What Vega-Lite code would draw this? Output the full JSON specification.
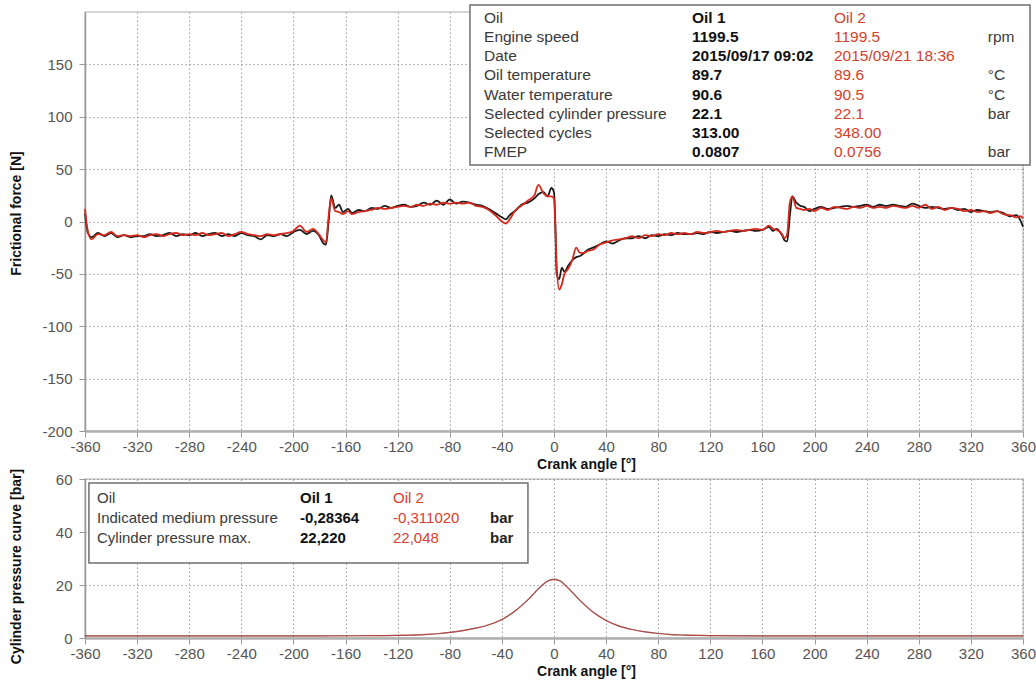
{
  "$schema": "https://vega.github.io/schema/vega-lite/v6.json",
  "padding": {"left": 8, "top": 3, "right": 0, "bottom": 2},
  "bounds": "flush",
  "spacing": 48,
  "config": {
    "locale": {"number": {"decimal": ".", "thousands": ",", "grouping": [3], "currency": ["", ""], "minus": "-"}},
    "font": "Liberation Sans",
    "view": {"stroke": "#c8c8c8", "strokeWidth": 1.5},
    "axis": {
      "labelFont": "Liberation Sans", "labelFontSize": 15, "labelColor": "#555555",
      "titleFont": "Liberation Sans", "titleFontSize": 14, "titleFontWeight": "bold", "titleColor": "#111111",
      "gridColor": "#8c8c8c", "gridDash": [1.5, 2.5], "gridWidth": 1, "gridOpacity": 0.8,
      "domainColor": "#999999", "domainWidth": 1.5, "tickColor": "#999999", "tickSize": 6, "labelPadding": 2,
      "labelFlush": false
    },
    "axisY": {"labelPadding": 7}
  },
  "datasets": {
    "friction": [
      {"a": -360, "o1": 8, "o2": 12}, {"a": -358, "o1": -10, "o2": -8}, {"a": -355, "o1": -15, "o2": -17},
      {"a": -350, "o1": -11, "o2": -12}, {"a": -345, "o1": -14, "o2": -13}, {"a": -340, "o1": -11, "o2": -10},
      {"a": -335, "o1": -15, "o2": -14}, {"a": -330, "o1": -13, "o2": -13}, {"a": -325, "o1": -15, "o2": -14},
      {"a": -320, "o1": -14, "o2": -13}, {"a": -315, "o1": -14, "o2": -15}, {"a": -310, "o1": -12, "o2": -13},
      {"a": -305, "o1": -14, "o2": -12}, {"a": -300, "o1": -13, "o2": -14}, {"a": -295, "o1": -11, "o2": -12},
      {"a": -290, "o1": -14, "o2": -11}, {"a": -285, "o1": -12, "o2": -13}, {"a": -280, "o1": -13, "o2": -12},
      {"a": -275, "o1": -11, "o2": -13}, {"a": -270, "o1": -14, "o2": -11}, {"a": -265, "o1": -12, "o2": -13},
      {"a": -260, "o1": -11, "o2": -12}, {"a": -255, "o1": -14, "o2": -11}, {"a": -250, "o1": -12, "o2": -14},
      {"a": -245, "o1": -14, "o2": -12}, {"a": -240, "o1": -11, "o2": -10}, {"a": -235, "o1": -13, "o2": -12},
      {"a": -230, "o1": -14, "o2": -13}, {"a": -225, "o1": -17, "o2": -14}, {"a": -220, "o1": -13, "o2": -12},
      {"a": -215, "o1": -14, "o2": -13}, {"a": -210, "o1": -12, "o2": -12}, {"a": -205, "o1": -14, "o2": -11},
      {"a": -200, "o1": -10, "o2": -9}, {"a": -195, "o1": -8, "o2": -4}, {"a": -190, "o1": -12, "o2": -10},
      {"a": -185, "o1": -9, "o2": -7}, {"a": -180, "o1": -14, "o2": -13}, {"a": -177, "o1": -21, "o2": -18},
      {"a": -175, "o1": -22, "o2": -20}, {"a": -173, "o1": 0, "o2": 5}, {"a": -171, "o1": 25, "o2": 22},
      {"a": -168, "o1": 13, "o2": 10}, {"a": -165, "o1": 16, "o2": 9}, {"a": -162, "o1": 9, "o2": 7},
      {"a": -158, "o1": 12, "o2": 10}, {"a": -155, "o1": 8, "o2": 7}, {"a": -150, "o1": 11, "o2": 9},
      {"a": -145, "o1": 10, "o2": 10}, {"a": -140, "o1": 13, "o2": 11}, {"a": -135, "o1": 12, "o2": 13},
      {"a": -130, "o1": 15, "o2": 12}, {"a": -125, "o1": 13, "o2": 13}, {"a": -120, "o1": 15, "o2": 14},
      {"a": -115, "o1": 16, "o2": 15}, {"a": -110, "o1": 14, "o2": 14}, {"a": -105, "o1": 15, "o2": 16},
      {"a": -100, "o1": 18, "o2": 15}, {"a": -95, "o1": 16, "o2": 17}, {"a": -90, "o1": 20, "o2": 16},
      {"a": -85, "o1": 16, "o2": 18}, {"a": -80, "o1": 21, "o2": 17}, {"a": -75, "o1": 17, "o2": 18},
      {"a": -70, "o1": 19, "o2": 17}, {"a": -65, "o1": 18, "o2": 18}, {"a": -60, "o1": 16, "o2": 15},
      {"a": -55, "o1": 15, "o2": 14}, {"a": -50, "o1": 12, "o2": 11}, {"a": -45, "o1": 8, "o2": 6},
      {"a": -40, "o1": 4, "o2": 0}, {"a": -37, "o1": 2, "o2": -2}, {"a": -34, "o1": 6, "o2": 2},
      {"a": -30, "o1": 10, "o2": 10}, {"a": -25, "o1": 16, "o2": 15}, {"a": -20, "o1": 18, "o2": 20},
      {"a": -15, "o1": 22, "o2": 25}, {"a": -12, "o1": 26, "o2": 35}, {"a": -8, "o1": 28, "o2": 27},
      {"a": -5, "o1": 24, "o2": 24}, {"a": -2, "o1": 32, "o2": 24}, {"a": 0, "o1": 28, "o2": 22},
      {"a": 1, "o1": 0, "o2": -5}, {"a": 2, "o1": -50, "o2": -40}, {"a": 4, "o1": -55, "o2": -65},
      {"a": 6, "o1": -44, "o2": -60}, {"a": 8, "o1": -48, "o2": -50}, {"a": 11, "o1": -42, "o2": -45},
      {"a": 14, "o1": -37, "o2": -37}, {"a": 17, "o1": -34, "o2": -25}, {"a": 20, "o1": -33, "o2": -30},
      {"a": 23, "o1": -30, "o2": -30}, {"a": 26, "o1": -27, "o2": -28}, {"a": 30, "o1": -25, "o2": -27},
      {"a": 35, "o1": -22, "o2": -22}, {"a": 40, "o1": -19, "o2": -20}, {"a": 45, "o1": -21, "o2": -18},
      {"a": 50, "o1": -18, "o2": -17}, {"a": 55, "o1": -16, "o2": -16}, {"a": 60, "o1": -16, "o2": -14},
      {"a": 65, "o1": -14, "o2": -16}, {"a": 70, "o1": -16, "o2": -13}, {"a": 75, "o1": -13, "o2": -14},
      {"a": 80, "o1": -14, "o2": -12}, {"a": 85, "o1": -12, "o2": -13}, {"a": 90, "o1": -13, "o2": -11},
      {"a": 95, "o1": -11, "o2": -12}, {"a": 100, "o1": -12, "o2": -11}, {"a": 105, "o1": -12, "o2": -12},
      {"a": 110, "o1": -11, "o2": -10}, {"a": 115, "o1": -12, "o2": -11}, {"a": 120, "o1": -10, "o2": -10},
      {"a": 125, "o1": -11, "o2": -9}, {"a": 130, "o1": -10, "o2": -10}, {"a": 135, "o1": -9, "o2": -9},
      {"a": 140, "o1": -10, "o2": -8}, {"a": 145, "o1": -9, "o2": -9}, {"a": 150, "o1": -8, "o2": -8},
      {"a": 155, "o1": -9, "o2": -7}, {"a": 160, "o1": -8, "o2": -8}, {"a": 165, "o1": -5, "o2": -4},
      {"a": 168, "o1": -9, "o2": -7}, {"a": 171, "o1": -7, "o2": -8}, {"a": 175, "o1": -13, "o2": -12},
      {"a": 177, "o1": -18, "o2": -16}, {"a": 179, "o1": -19, "o2": -12}, {"a": 181, "o1": 5, "o2": 18},
      {"a": 183, "o1": 24, "o2": 24}, {"a": 186, "o1": 18, "o2": 13}, {"a": 189, "o1": 15, "o2": 12},
      {"a": 192, "o1": 14, "o2": 11}, {"a": 196, "o1": 10, "o2": 12}, {"a": 200, "o1": 12, "o2": 10},
      {"a": 205, "o1": 14, "o2": 13}, {"a": 210, "o1": 12, "o2": 11}, {"a": 215, "o1": 13, "o2": 14},
      {"a": 220, "o1": 14, "o2": 13}, {"a": 225, "o1": 15, "o2": 12}, {"a": 230, "o1": 14, "o2": 14},
      {"a": 235, "o1": 15, "o2": 13}, {"a": 240, "o1": 16, "o2": 15}, {"a": 245, "o1": 14, "o2": 13},
      {"a": 250, "o1": 16, "o2": 14}, {"a": 255, "o1": 15, "o2": 13}, {"a": 260, "o1": 16, "o2": 15},
      {"a": 265, "o1": 15, "o2": 14}, {"a": 270, "o1": 14, "o2": 13}, {"a": 275, "o1": 17, "o2": 15},
      {"a": 280, "o1": 15, "o2": 13}, {"a": 285, "o1": 13, "o2": 16}, {"a": 290, "o1": 14, "o2": 12},
      {"a": 295, "o1": 13, "o2": 14}, {"a": 300, "o1": 12, "o2": 11}, {"a": 305, "o1": 13, "o2": 13},
      {"a": 310, "o1": 11, "o2": 12}, {"a": 315, "o1": 12, "o2": 10}, {"a": 320, "o1": 9, "o2": 11},
      {"a": 325, "o1": 11, "o2": 9}, {"a": 330, "o1": 10, "o2": 10}, {"a": 335, "o1": 9, "o2": 8},
      {"a": 340, "o1": 10, "o2": 10}, {"a": 345, "o1": 8, "o2": 7}, {"a": 350, "o1": 5, "o2": 6},
      {"a": 355, "o1": 6, "o2": 4}, {"a": 358, "o1": 1, "o2": 5}, {"a": 360, "o1": -5, "o2": 3}
    ],
    "pressure": [
      {"a": -360, "o1": 0.8, "o2": 0.8}, {"a": -300, "o1": 0.8, "o2": 0.8}, {"a": -240, "o1": 0.8, "o2": 0.8},
      {"a": -180, "o1": 0.8, "o2": 0.8}, {"a": -140, "o1": 0.9, "o2": 0.9}, {"a": -120, "o1": 1.0, "o2": 1.0},
      {"a": -100, "o1": 1.3, "o2": 1.3}, {"a": -90, "o1": 1.6, "o2": 1.6}, {"a": -80, "o1": 2.1, "o2": 2.1},
      {"a": -70, "o1": 2.8, "o2": 2.8}, {"a": -60, "o1": 3.7, "o2": 3.7}, {"a": -50, "o1": 5.0, "o2": 5.0},
      {"a": -40, "o1": 7.0, "o2": 7.0}, {"a": -30, "o1": 10.2, "o2": 10.1}, {"a": -20, "o1": 14.5, "o2": 14.4},
      {"a": -10, "o1": 19.5, "o2": 19.4}, {"a": -5, "o1": 21.5, "o2": 21.4}, {"a": 0, "o1": 22.22, "o2": 22.05},
      {"a": 5, "o1": 21.5, "o2": 21.4}, {"a": 10, "o1": 19.3, "o2": 19.2}, {"a": 20, "o1": 14.2, "o2": 14.1},
      {"a": 30, "o1": 9.8, "o2": 9.7}, {"a": 40, "o1": 6.6, "o2": 6.6}, {"a": 50, "o1": 4.5, "o2": 4.5},
      {"a": 60, "o1": 3.2, "o2": 3.2}, {"a": 70, "o1": 2.3, "o2": 2.3}, {"a": 80, "o1": 1.7, "o2": 1.7},
      {"a": 90, "o1": 1.3, "o2": 1.3}, {"a": 100, "o1": 1.1, "o2": 1.1}, {"a": 120, "o1": 0.9, "o2": 0.9},
      {"a": 180, "o1": 0.8, "o2": 0.8}, {"a": 240, "o1": 0.8, "o2": 0.8}, {"a": 300, "o1": 0.8, "o2": 0.8},
      {"a": 360, "o1": 0.8, "o2": 0.8}
    ],
    "table1": [
      {"row": 1, "label": "Oil", "v1": "Oil 1", "v2": "Oil 2", "unit": ""},
      {"row": 2, "label": "Engine speed", "v1": "1199.5", "v2": "1199.5", "unit": "rpm"},
      {"row": 3, "label": "Date", "v1": "2015/09/17 09:02", "v2": "2015/09/21 18:36", "unit": ""},
      {"row": 4, "label": "Oil temperature", "v1": "89.7", "v2": "89.6", "unit": "°C"},
      {"row": 5, "label": "Water temperature", "v1": "90.6", "v2": "90.5", "unit": "°C"},
      {"row": 6, "label": "Selected cylinder pressure", "v1": "22.1", "v2": "22.1", "unit": "bar"},
      {"row": 7, "label": "Selected cycles", "v1": "313.00", "v2": "348.00", "unit": ""},
      {"row": 8, "label": "FMEP", "v1": "0.0807", "v2": "0.0756", "unit": "bar"}
    ],
    "table2": [
      {"row": 1, "label": "Oil", "v1": "Oil 1", "v2": "Oil 2", "unit": ""},
      {"row": 2, "label": "Indicated medium pressure", "v1": "-0,28364", "v2": "-0,311020", "unit": "bar"},
      {"row": 3, "label": "Cylinder pressure max.", "v1": "22,220", "v2": "22,048", "unit": "bar"}
    ]
  },
  "vconcat": [
    {
      "width": 938,
      "height": 419,
      "layer": [
        {
          "data": {"name": "friction"},
          "transform": [{"fold": ["o1", "o2"], "as": ["oil", "force"]}],
          "mark": {"type": "line", "strokeWidth": 1.8, "interpolate": "monotone"},
          "encoding": {
            "x": {"field": "a", "type": "quantitative", "scale": {"domain": [-360, 360], "nice": false, "zero": false},
                  "axis": {"values": [-360, -320, -280, -240, -200, -160, -120, -80, -40, 0, 40, 80, 120, 160, 200, 240, 280, 320, 360],
                           "title": "Crank angle [°]", "titleX": 501, "titlePadding": 3, "domainColor": "#b0b0b0", "domainWidth": 2.5, "labelOverlap": false}},
            "y": {"field": "force", "type": "quantitative", "scale": {"domain": [-200, 200], "nice": false},
                  "axis": {"values": [-200, -150, -100, -50, 0, 50, 100, 150], "title": "Frictional force [N]", "titleX": -62, "titleY": 201}},
            "color": {"field": "oil", "type": "nominal", "scale": {"domain": ["o1", "o2"], "range": ["#1a1a1a", "#d42a1e"]}, "legend": null}
          }
        },
        {
          "data": {"name": "table1"},
          "encoding": {
            "y": {"field": "row", "type": "quantitative", "scale": {"domain": [0.687, 22.58], "reverse": true, "nice": false, "zero": false}, "axis": null}
          },
          "layer": [
            {
              "transform": [{"filter": "datum.row == 1"}],
              "mark": {"type": "rect", "fill": "white", "stroke": "#707070", "strokeWidth": 1.5},
              "encoding": {"x": {"datum": -64.5}, "x2": {"datum": 365.4}, "y": {"datum": 0.321, "axis": null}, "y2": {"datum": 8.68}}
            },
            {
              "mark": {"type": "text", "align": "left", "baseline": "middle", "fontSize": 15.5, "color": "#3a3a3a"},
              "encoding": {"x": {"datum": -53.7}, "text": {"field": "label"}}
            },
            {
              "mark": {"type": "text", "align": "left", "baseline": "middle", "fontSize": 15.5, "fontWeight": "bold", "color": "#111111"},
              "encoding": {"x": {"datum": 105.9}, "text": {"field": "v1"}}
            },
            {
              "mark": {"type": "text", "align": "left", "baseline": "middle", "fontSize": 15.5, "color": "#d6402c"},
              "encoding": {"x": {"datum": 214.9}, "text": {"field": "v2"}}
            },
            {
              "mark": {"type": "text", "align": "left", "baseline": "middle", "fontSize": 15.5, "color": "#3a3a3a"},
              "encoding": {"x": {"datum": 333}, "text": {"field": "unit"}}
            }
          ]
        }
      ],
      "resolve": {"scale": {"y": "independent"}}
    },
    {
      "width": 938,
      "height": 159,
      "layer": [
        {
          "data": {"name": "pressure"},
          "transform": [{"fold": ["o1", "o2"], "as": ["oil", "p"]}],
          "mark": {"type": "line", "strokeWidth": 1.2, "interpolate": "monotone", "opacity": 0.6},
          "encoding": {
            "x": {"field": "a", "type": "quantitative", "scale": {"domain": [-360, 360], "nice": false, "zero": false},
                  "axis": {"values": [-360, -320, -280, -240, -200, -160, -120, -80, -40, 0, 40, 80, 120, 160, 200, 240, 280, 320, 360],
                           "title": "Crank angle [°]", "titleX": 501, "titlePadding": 3, "domainColor": "#b0b0b0", "domainWidth": 2.5, "labelOverlap": false}},
            "y": {"field": "p", "type": "quantitative", "scale": {"domain": [0, 60], "nice": false},
                  "axis": {"values": [0, 20, 40, 60], "title": "Cylinder pressure curve [bar]", "titleX": -62, "titleY": 87}},
            "color": {"field": "oil", "type": "nominal", "scale": {"domain": ["o1", "o2"], "range": ["#1a1a1a", "#d42a1e"]}, "legend": null}
          }
        },
        {
          "data": {"name": "table2"},
          "encoding": {
            "y": {"field": "row", "type": "quantitative", "scale": {"domain": [0.05, 8.0], "reverse": true, "nice": false, "zero": false}, "axis": null}
          },
          "layer": [
            {
              "transform": [{"filter": "datum.row == 1"}],
              "mark": {"type": "rect", "fill": "white", "stroke": "#707070", "strokeWidth": 1.5},
              "encoding": {"x": {"datum": -357}, "x2": {"datum": -20}, "y": {"datum": 0.25, "axis": null}, "y2": {"datum": 4.25}}
            },
            {
              "mark": {"type": "text", "align": "left", "baseline": "middle", "fontSize": 15, "color": "#3a3a3a"},
              "encoding": {"x": {"datum": -350.8}, "text": {"field": "label"}}
            },
            {
              "mark": {"type": "text", "align": "left", "baseline": "middle", "fontSize": 15, "fontWeight": "bold", "color": "#111111"},
              "encoding": {"x": {"datum": -195}, "text": {"field": "v1"}}
            },
            {
              "mark": {"type": "text", "align": "left", "baseline": "middle", "fontSize": 15, "color": "#d6402c"},
              "encoding": {"x": {"datum": -123.6}, "text": {"field": "v2"}}
            },
            {
              "mark": {"type": "text", "align": "left", "baseline": "middle", "fontSize": 15, "fontWeight": "bold", "color": "#222222"},
              "encoding": {"x": {"datum": -49.1}, "text": {"field": "unit"}}
            }
          ]
        }
      ],
      "resolve": {"scale": {"y": "independent"}}
    }
  ]
}
